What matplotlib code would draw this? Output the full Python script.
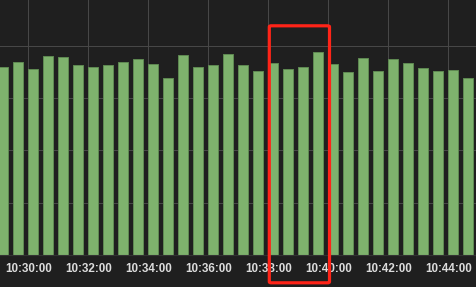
import matplotlib
matplotlib.use("Agg")
import matplotlib.pyplot as plt
import matplotlib.dates as mdates
from matplotlib.patches import FancyBboxPatch
import pandas as pd

# Data: one bar every 30 s, starting 10:29:00
start_time = "2024-01-01 10:29:00"
values = [72.1, 74.0, 71.1, 76.1, 75.7, 72.7, 72.1, 72.8, 73.8, 75.1,
          73.0, 67.6, 76.4, 72.1, 72.7, 76.9, 72.6, 70.3, 73.6, 71.2,
          72.0, 77.7, 73.2, 70.2, 75.3, 70.4, 75.0, 73.5, 71.6, 70.3,
          70.9, 67.8]
tick_labels = ["10:30:00", "10:32:00", "10:34:00", "10:36:00",
               "10:38:00", "10:40:00", "10:42:00", "10:44:00"]

times = pd.date_range(start_time, periods=len(values), freq="30s")
tick_times = pd.to_datetime(["2024-01-01 " + t for t in tick_labels])

BG = "#1f1f1f"
W, H = 476, 287
fig = plt.figure(figsize=(W / 100, H / 100), dpi=100, facecolor=BG)
ax = fig.add_axes([0, (H - 255) / H, 1, 255 / H], facecolor=BG)

bar_w = pd.Timedelta(seconds=20) / pd.Timedelta(days=1)
ax.bar(times, values, width=bar_w, align="edge", color="#7eb26d",
       edgecolor="#5f8a52", linewidth=0.7, zorder=2)

x0 = pd.Timestamp("2024-01-01 10:29:03.4")
x1 = pd.Timestamp("2024-01-01 10:44:55.4")
ax.set_xlim(x0, x1)
ax.set_ylim(0, 97.6)

ax.set_xticks(tick_times)
ax.xaxis.set_major_formatter(mdates.DateFormatter("%H:%M:%S"))
ax.set_yticks([20, 40, 60, 80])
ax.tick_params(axis="y", left=False, labelleft=False, length=0)
ax.tick_params(axis="x", length=0, pad=6, labelsize=8.4, colors="#dcdcdc")
for lbl in ax.get_xticklabels():
    lbl.set_fontfamily(["Liberation Sans", "DejaVu Sans"])
    lbl.set_fontweight("bold")
ax.grid(True, color="#474747", linewidth=0.75, zorder=0)
for s in ["top", "left", "right"]:
    ax.spines[s].set_visible(False)
ax.spines["bottom"].set_color("#333333")
ax.spines["bottom"].set_linewidth(0.8)

# red highlight box (annotation, in pixel coords)
px = lambda x, y: (x / W, 1 - y / H)
lx, ty = px(269.3, 25.8)
rx, by = px(329.5, 282.8)
box = FancyBboxPatch((lx, by), rx - lx, ty - by,
                     boxstyle="round,pad=0,rounding_size=0.004",
                     transform=fig.transFigure, fill=False,
                     edgecolor="#ff2418", linewidth=2.3, zorder=10)
fig.patches.append(box)

fig.savefig("out.png", dpi=100, facecolor=BG)
